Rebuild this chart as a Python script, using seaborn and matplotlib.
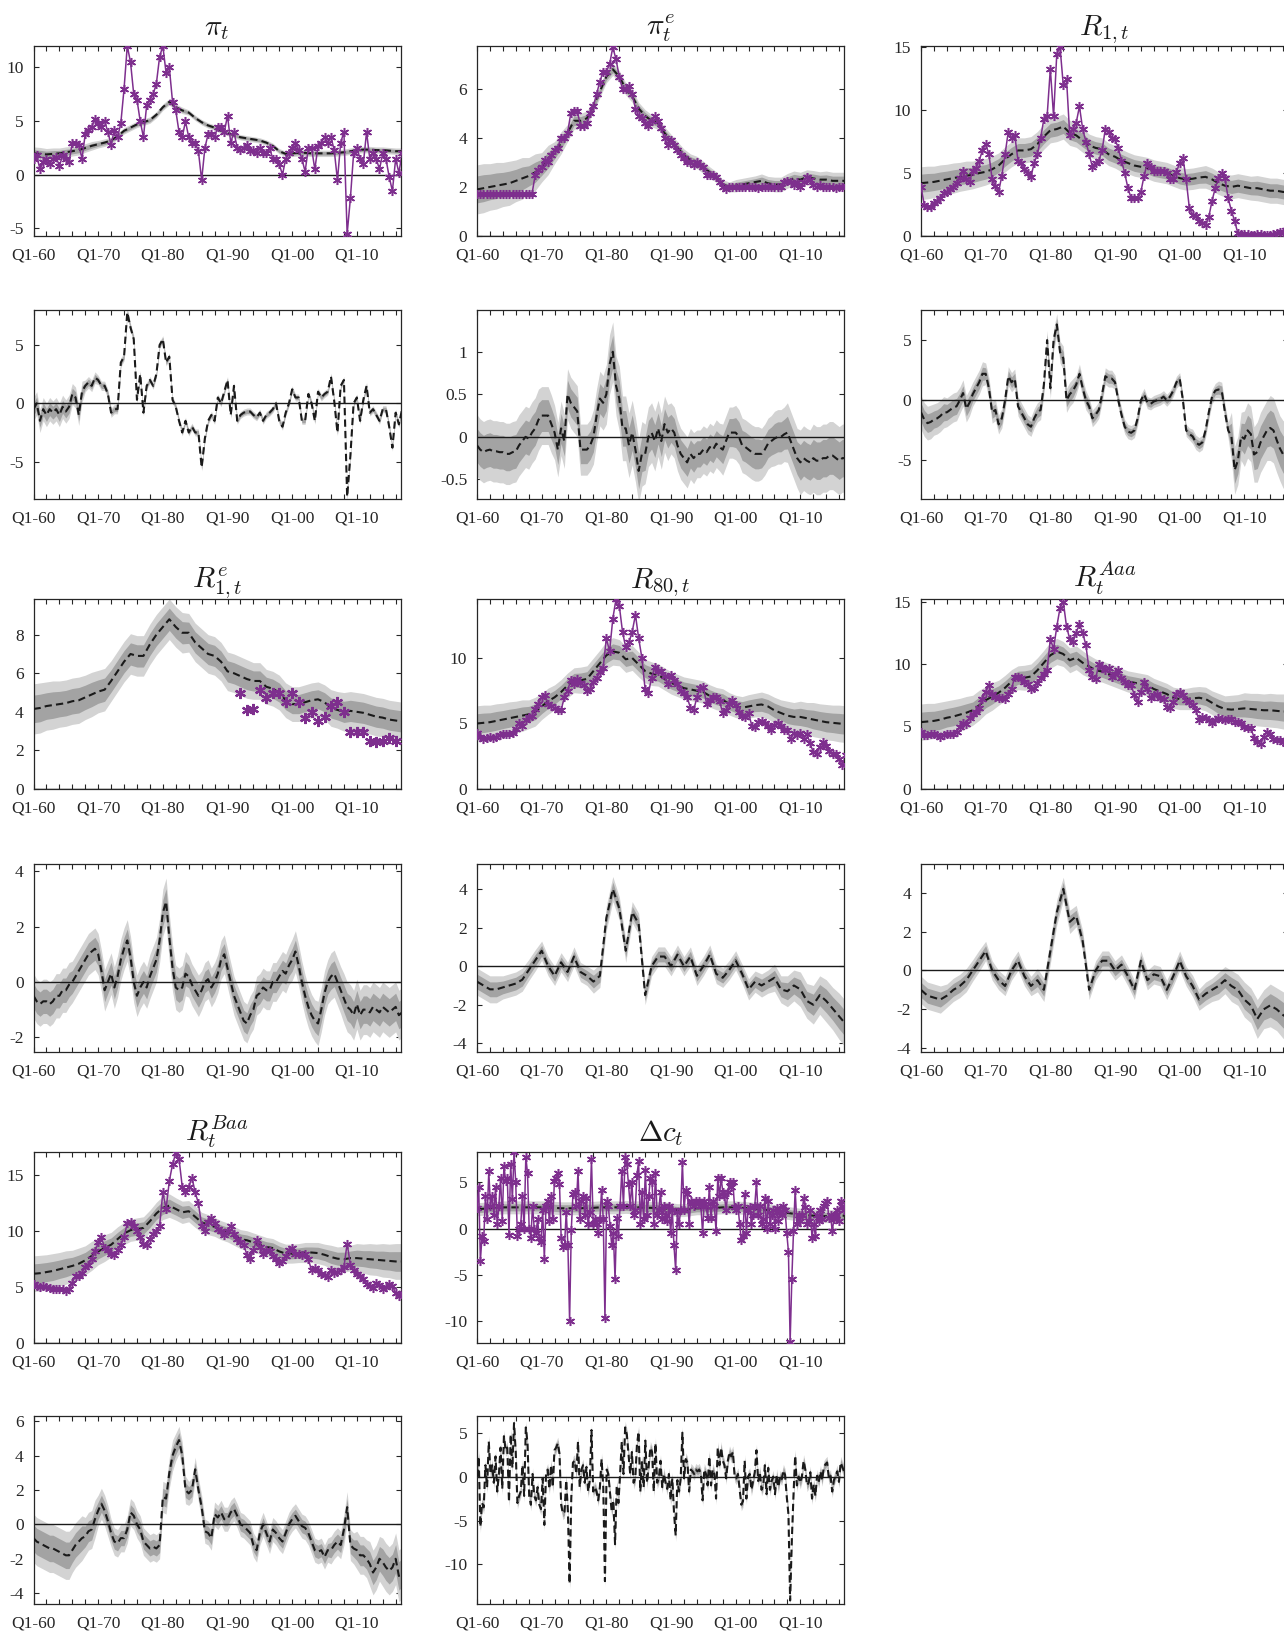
import numpy as np
import matplotlib
matplotlib.use("Agg")
import matplotlib.pyplot as plt
import seaborn as sns

# ---------------- data ----------------
# observed series: half-year steps 1960.0 ... 2017.0 (unless noted)
pi_obs = [1.5, 1.8, 0.5, 1.2, 1.5, 1.0, 1.5, 1.7, 0.8, 1.8, 1.5, 1.2, 3.0, 3.0, 2.8, 1.5,
          3.8, 4.2, 4.5, 5.2, 4.8, 4.5, 5.0, 4.0, 2.8, 4.2, 3.5, 4.8, 8.0, 12.0, 10.5, 7.5,
          7.0, 5.0, 3.5, 6.5, 7.0, 7.5, 8.5, 11.0, 12.0, 9.5, 10.0, 6.8, 6.0, 4.0, 3.5, 5.0,
          3.5, 3.0, 3.0, 2.2, -0.5, 2.5, 3.8, 3.8, 3.5, 4.5, 4.5, 4.0, 5.5, 3.0, 4.0, 2.5,
          2.3, 2.5, 2.8, 2.2, 2.3, 2.0, 2.5, 2.0, 2.0, 2.5, 1.5, 1.5, 1.0, 0.0, 1.5, 2.0,
          2.5, 3.0, 2.3, 1.5, 0.3, 2.5, 2.5, 0.5, 2.7, 3.0, 3.5, 3.0, 3.5, 2.3, -0.5, 3.0,
          4.0, -5.5, -2.2, 2.0, 2.5, 1.5, 1.0, 4.0, 1.5, 2.0, 1.5, 0.5, 2.0, 1.5, -0.2, -1.5,
          1.5, 0.2, 2.0]
pie_obs = [1.7] * 18 + [2.5, 2.7, 2.8, 3.1, 3.0, 3.3, 3.5, 3.6, 4.0, 4.0, 4.2, 5.0, 5.1, 5.1,
          4.5, 4.5, 4.6, 5.0, 5.3, 5.8, 6.3, 6.7, 6.7, 7.0, 7.7, 7.2, 6.5, 6.0, 6.0, 6.1,
          5.8, 5.2, 4.9, 4.8, 4.6, 4.5, 4.7, 4.9, 4.7, 4.4, 4.0, 3.7, 3.9, 3.7, 3.5, 3.3,
          3.2, 3.0, 3.0, 2.9, 3.0, 2.9, 2.8, 2.5, 2.5, 2.5, 2.4, 2.2, 2.0, 1.9, 2.0, 2.0,
          2.0, 2.0, 2.0, 2.0, 2.0, 2.0, 2.0, 1.95, 2.0, 2.0, 2.0, 2.0, 2.0, 2.0, 2.0, 2.2,
          2.25, 2.2, 2.1, 2.2, 2.0, 2.2, 2.4, 2.3, 2.1, 2.0, 2.1, 2.0, 2.0, 2.0, 2.0, 1.95,
          2.0, 2.0, 2.05]
r1_obs = [3.9, 2.5, 2.3, 2.3, 2.6, 2.8, 3.0, 3.4, 3.5, 3.7, 3.9, 4.2, 4.6, 5.2, 4.5, 4.3,
          5.2, 5.4, 6.0, 6.8, 7.3, 6.5, 4.5, 4.0, 3.5, 4.8, 6.5, 8.3, 7.8, 8.0, 6.0, 5.8,
          5.3, 5.0, 4.7, 5.8, 6.5, 7.8, 9.3, 9.5, 13.3, 9.5, 14.5, 15.0, 12.0, 12.5, 8.0, 8.5,
          9.0, 10.3, 8.5, 7.5, 6.5, 5.5, 5.8, 6.0, 6.8, 8.5, 8.3, 7.8, 7.7, 7.0, 6.0, 5.0,
          3.8, 3.0, 3.0, 3.0, 3.5, 4.8, 5.8, 5.5, 5.2, 5.2, 5.2, 5.2, 5.0, 4.5, 4.5, 5.1,
          5.8, 6.2, 4.5, 2.2, 1.7, 1.6, 1.2, 1.0, 0.9, 1.5, 2.8, 3.8, 4.6, 5.0, 4.6, 3.0,
          2.0, 1.2, 0.2, 0.15, 0.15, 0.15, 0.1, 0.1, 0.15, 0.15, 0.1, 0.1, 0.1, 0.15, 0.2, 0.3,
          0.3, 0.5, 0.9]
r80_obs = [4.3, 4.0, 3.8, 3.9, 4.0, 3.9, 4.0, 4.1, 4.2, 4.2, 4.2, 4.3, 4.6, 5.0, 4.8, 5.3,
           5.5, 5.6, 6.1, 6.5, 7.0, 7.2, 6.5, 6.3, 6.2, 6.0, 6.0, 7.0, 7.5, 8.3, 8.0, 8.4,
           8.1, 7.9, 7.5, 7.6, 8.2, 8.5, 8.9, 9.2, 11.5, 10.5, 13.0, 14.5, 14.0, 12.0, 10.8, 11.2,
           12.0, 13.3, 11.5, 10.0, 7.6, 7.3, 8.5, 9.3, 9.0, 9.0, 8.6, 8.0, 8.7, 8.3, 8.0, 7.5,
           7.3, 7.0, 6.2, 6.0, 7.0, 7.7, 7.8, 6.5, 6.8, 7.0, 7.0, 6.7, 5.8, 6.0, 6.5, 6.8,
           6.4, 5.9, 5.6, 5.5, 5.8, 4.8, 4.7, 5.1, 5.2, 5.0, 4.8, 4.5, 4.9, 5.0, 4.8, 4.5,
           4.5, 3.8, 4.3, 4.1, 4.3, 3.8, 4.2, 3.5, 2.8, 2.7, 3.2, 3.6, 3.3, 2.9, 2.7, 2.7,
           2.3, 1.8, 2.6]
aaa_obs = [4.6, 4.3, 4.3, 4.4, 4.4, 4.3, 4.2, 4.3, 4.4, 4.4, 4.4, 4.6, 5.0, 5.3, 5.2, 5.7,
           6.0, 6.2, 6.5, 7.2, 7.8, 8.3, 7.6, 7.4, 7.3, 7.3, 7.2, 7.6, 8.0, 9.0, 9.0, 8.9,
           8.6, 8.4, 8.0, 8.1, 8.5, 8.9, 9.2, 9.5, 12.0, 11.2, 13.0, 14.5, 15.0, 13.0, 12.0, 11.8,
           12.5, 13.2, 12.5, 11.5, 9.5, 9.0, 8.8, 10.0, 9.8, 9.5, 9.7, 9.0, 9.2, 9.5, 8.9, 8.6,
           8.3, 8.3, 7.5, 7.0, 7.8, 8.6, 8.0, 7.3, 7.5, 7.6, 7.3, 7.2, 6.6, 6.5, 7.0, 7.6,
           7.8, 7.5, 7.1, 7.0, 6.7, 6.3, 5.5, 5.8, 5.7, 5.5, 5.3, 5.5, 5.7, 5.6, 5.5, 5.6,
           5.6, 5.4, 5.4, 5.3, 5.0, 4.9, 4.9, 4.1, 3.8, 3.6, 4.2, 4.6, 4.4, 4.0, 3.9, 3.9,
           3.8, 3.7, 4.0]
baa_obs = [5.3, 5.1, 5.0, 5.1, 5.0, 4.9, 4.8, 4.8, 4.8, 4.8, 4.7, 4.8, 5.4, 6.0, 6.0, 6.3,
           6.8, 7.0, 7.5, 8.2, 9.0, 9.5, 8.5, 8.3, 8.0, 7.9, 8.3, 8.8, 9.5, 10.7, 10.8, 10.5,
           10.0, 9.5, 8.9, 8.8, 9.3, 9.8, 10.0, 10.5, 13.5, 12.0, 14.5, 16.0, 17.0, 16.5, 14.0, 13.5,
           14.0, 14.8, 13.5, 12.5, 10.5, 10.0, 10.8, 11.2, 10.7, 10.2, 10.0, 9.7, 10.0, 10.5, 9.8, 9.3,
           9.0, 8.8, 7.9, 7.5, 8.3, 9.2, 8.6, 8.0, 8.3, 8.2, 7.8, 7.5, 7.2, 7.3, 7.8, 8.3,
           8.5, 8.0, 8.0, 7.9, 8.0, 7.5, 6.5, 6.7, 6.5, 6.2, 6.1, 5.9, 6.5, 6.3, 6.4, 6.5,
           6.8, 8.9, 7.0, 6.5, 6.2, 6.0, 5.7, 5.3, 5.1, 4.9, 5.4, 5.2, 4.8, 5.0, 5.3, 5.1,
           4.5, 4.2, 4.5]
# survey points for R^e_1, annual 1992 ... 2016
re1_years = list(range(1992, 2017))
re1_obs = [5.0, 4.1, 4.15, 5.15, 4.7, 5.0, 5.0, 4.5, 5.0, 4.5, 3.7, 4.0, 3.5, 3.75, 4.3,
           4.5, 4.0, 2.95, 2.95, 2.95, 2.5, 2.45, 2.5, 2.65, 2.5]
# consumption growth, quarterly 1960Q1 ... 2016Q4
dc_obs = [2.2, 4.5, -3.5, -0.8, -1.3, 3.5, 1.0, 6.2, 2.5, 3.5,
          1.5, 4.5, 0.5, 2.5, 5.5, 0.8, 6.8, 5.2, 5.5, -0.7,
          7.0, 3.2, 8.3, 5.0, -0.8, 0.0, 0.5, 3.5, 0.0, 7.8,
          6.0, 0.0, -1.0, 2.5, 0.0, -0.5, 1.0, -1.0, -1.5, 2.0,
          -3.3, 2.5, 3.0, 0.8, 3.5, 1.0, 5.2, 5.5, 6.0, 4.8,
          -1.0, -2.0, -1.8, 1.8, -1.8, -10.0, -0.2, 3.8, 4.0, 2.5,
          6.2, 1.0, 3.0, 3.5, 1.5, 3.3, 0.5, 1.8, 7.5, 0.5,
          1.0, 0.5, -0.5, 1.0, 4.2, 1.0, -9.7, 3.0, 2.5, 0.3,
          -1.8, -0.5, -5.5, 1.2, -0.8, 2.5, 6.2, 2.5, 7.8, 7.0,
          4.8, 2.5, 5.0, 1.5, 2.0, 5.8, 7.3, 0.5, 4.0, 1.0,
          6.3, 1.5, 3.5, 5.5, 5.0, 0.5, 6.0, 1.5, 2.0, 4.0,
          1.0, 2.5, 1.5, 0.8, 2.5, -0.5, 2.0, -1.8, -4.5, 1.8,
          0.5, 2.0, 7.2, 2.0, 4.2, 3.8, 0.5, 3.0, 2.8, 2.5,
          3.0, 2.8, 3.0, 2.5, -0.5, 3.0, 2.5, 1.2, 4.5, 1.2,
          3.0, 2.5, -0.3, 5.5, 3.5, 5.5, 4.0, 3.5, 2.0, 4.0,
          5.0, 4.5, 5.0, 2.3, 2.0, 2.5, 0.5, -1.2, -0.8, 3.8,
          -0.5, 2.0, 2.3, 0.5, 1.5, 2.5, 5.0, 1.5, 2.5, 0.5,
          1.0, 3.3, 0.0, 3.0, 0.5, 1.5, 2.0, 0.0, 2.2, 0.8,
          1.8, 1.5, 2.5, 2.0, -0.5, -2.5, -12.3, -5.5, -0.3, 4.2,
          0.5, 1.5, 0.8, 1.5, 3.3, 2.3, 0.5, 0.8, 2.0, -1.0,
          0.5, -0.8, 1.5, 0.8, 2.0, 1.0, 2.5, 2.8, 3.0, 1.2,
          1.5, -0.3, 1.0, 1.5, 2.0, 0.8, 3.0, 2.5, 2.0]

# trend medians, annual 1960 ... 2017
pi_trend = [2.0, 1.95, 1.9, 1.95, 2.0, 2.1, 2.2, 2.3, 2.5, 2.7, 2.85, 3.0, 3.2, 3.6, 4.1, 4.4,
            4.7, 4.9, 5.1, 5.6, 6.3, 6.8, 6.3, 6.0, 5.8, 5.3, 4.9, 4.6, 4.4, 4.1, 3.9, 3.7,
            3.5, 3.4, 3.3, 3.2, 3.0, 2.7, 2.2, 1.95, 2.0, 2.05, 2.05, 2.0, 2.0, 2.0, 2.0, 2.05,
            2.1, 2.2, 2.3, 2.35, 2.35, 2.3, 2.3, 2.25, 2.2, 2.2]
pie_trend = [1.9, 1.95, 2.0, 2.05, 2.1, 2.15, 2.25, 2.35, 2.45, 2.6, 2.8, 3.1, 3.4, 3.8, 4.2, 4.7,
             4.7, 4.8, 5.3, 5.9, 6.5, 6.8, 6.5, 6.0, 5.7, 5.2, 4.9, 4.7, 4.6, 4.2, 3.9, 3.6,
             3.3, 3.1, 3.0, 2.8, 2.6, 2.4, 2.1, 2.0, 2.05, 2.1, 2.15, 2.2, 2.25, 2.15, 2.1, 2.1,
             2.25, 2.35, 2.3, 2.4, 2.35, 2.3, 2.3, 2.25, 2.25, 2.25]
r1_trend = [4.2, 4.25, 4.3, 4.4, 4.5, 4.6, 4.7, 4.8, 4.85, 5.0, 5.1, 5.3, 5.6, 6.1, 6.5, 6.8,
            6.8, 6.9, 7.3, 7.9, 8.4, 8.5, 8.7, 8.2, 8.0, 7.6, 7.2, 7.0, 6.9, 6.5, 6.3, 6.0,
            5.8, 5.6, 5.5, 5.4, 5.2, 5.1, 5.0, 4.8, 4.6, 4.5, 4.55, 4.65, 4.7, 4.5, 4.2, 4.0,
            3.9, 4.0, 3.9, 3.8, 3.8, 3.7, 3.6, 3.6, 3.5, 3.5]
re1_trend = [4.15, 4.2, 4.3, 4.35, 4.4, 4.45, 4.55, 4.6, 4.75, 4.9, 5.05, 5.15, 5.6, 6.1, 6.6, 7.0,
             6.9, 6.9, 7.5, 8.0, 8.4, 8.8, 8.4, 8.1, 8.1, 7.6, 7.3, 7.0, 6.9, 6.6, 6.1, 6.0,
             5.85, 5.7, 5.6, 5.6, 5.3, 5.2, 5.0, 4.6, 4.4, 4.4, 4.5, 4.6, 4.65, 4.5, 4.2, 4.1,
             4.0, 4.05, 4.0, 3.95, 3.85, 3.75, 3.7, 3.6, 3.55, 3.5]
r80_trend = [5.0, 5.05, 5.1, 5.2, 5.3, 5.4, 5.5, 5.6, 5.7, 5.9, 6.3, 6.7, 7.0, 7.4, 7.9, 8.3,
             8.3, 8.4, 9.0, 9.6, 10.2, 10.5, 10.4, 9.9, 10.0, 9.5, 9.0, 8.8, 8.7, 8.4, 8.1, 7.9,
             7.7, 7.6, 7.5, 7.4, 7.1, 6.9, 6.8, 6.5, 6.3, 6.2, 6.3, 6.4, 6.45, 6.3, 6.0, 5.8,
             5.6, 5.5, 5.5, 5.4, 5.3, 5.2, 5.1, 5.05, 5.0, 4.95]
aaa_trend = [5.35, 5.4, 5.45, 5.55, 5.7, 5.8, 5.95, 6.1, 6.3, 6.7, 7.1, 7.4, 7.7, 8.1, 8.6, 8.9,
             8.9, 9.0, 9.5, 10.1, 10.7, 11.0, 10.8, 10.3, 10.5, 10.1, 9.8, 9.5, 9.4, 9.2, 9.0, 8.8,
             8.6, 8.5, 8.4, 8.3, 8.0, 7.8, 7.6, 7.3, 7.2, 7.2, 7.25, 7.3, 7.2, 6.9, 6.6, 6.4,
             6.35, 6.4, 6.45, 6.4, 6.35, 6.3, 6.3, 6.25, 6.2, 6.2]
baa_trend = [6.2, 6.25, 6.35, 6.45, 6.6, 6.75, 6.9, 7.1, 7.4, 7.8, 8.2, 8.5, 8.8, 9.3, 9.8, 10.1,
             10.2, 10.3, 10.9, 11.6, 12.1, 12.3, 12.0, 11.7, 11.8, 11.3, 10.8, 10.6, 10.4, 10.1, 9.9, 9.6,
             9.3, 9.2, 9.0, 8.8, 8.6, 8.5, 8.2, 8.0, 8.0, 8.05, 8.1, 8.1, 8.05, 7.9, 7.7, 7.55,
             7.5, 7.6, 7.6, 7.55, 7.5, 7.45, 7.4, 7.35, 7.3, 7.3]
dc_trend = [2.1, 2.15, 2.2, 2.25, 2.3, 2.3, 2.3, 2.3, 2.3, 2.3, 2.3, 2.3, 2.25, 2.2, 2.2, 2.2,
            2.2, 2.25, 2.25, 2.3, 2.3, 2.3, 2.3, 2.35, 2.3, 2.3, 2.25, 2.25, 2.2, 2.2, 2.1, 2.0,
            2.0, 2.1, 2.2, 2.2, 2.2, 2.25, 2.3, 2.3, 2.3, 2.25, 2.2, 2.15, 2.1, 2.0, 1.9, 1.8,
            1.7, 1.6, 1.5, 1.45, 1.4, 1.35, 1.35, 1.35, 1.4, 1.4]

# gap medians
pi_gap = [-0.5, 0.0, -1.5, -0.5, -1.0, -0.5, -0.8, -0.5, -1.0, -0.3, -0.7, -0.3, 0.8, 0.5, -1.0, 1.0,
          1.5, 1.8, 1.5, 2.2, 2.0, 1.5, 1.5, 0.8, -0.8, -0.5, -0.5, 3.5, 4.0, 7.8, 6.5, 5.5,
          0.3, 2.5, -0.8, 1.5, 2.0, 1.5, 2.5, 5.0, 5.5, 3.5, 4.0, 0.3, -0.3, -1.5, -2.5, -1.5,
          -2.5, -2.0, -2.5, -2.5, -5.5, -3.0, -1.5, -1.0, -1.5, 0.5, 0.0, 1.0, 2.0, -1.0, 1.5, -1.5,
          -1.0, -0.8, -0.7, -0.7, -1.0, -1.2, -0.8, -1.5, -1.0, -0.8, -0.5, 0.0, -1.5, -2.0, -0.8, 0.0,
          1.2, 0.5, 0.5, -1.5, -1.5, 0.8, 0.0, -1.5, 1.0, 0.5, 0.8, 1.0, 2.3, 0.2, -2.5, 1.5,
          2.0, -8.0, -4.5, 0.0, 0.5, -1.5, 0.3, 1.5, -0.8, -0.5, -1.0, -1.5, -0.5, -0.5, -2.0, -3.8,
          -0.8, -1.8, -0.5]
pie_gap = [-0.1, -0.15, -0.18, -0.16, -0.15, -0.17, -0.17, -0.18, -0.18, -0.2, -0.2, -0.18, -0.17, -0.1,
           -0.05, 0.0, -0.02, 0.05, 0.1, 0.2, 0.25, 0.25, 0.25, 0.15, 0.05, -0.15, 0.1, -0.05, 0.5, 0.4,
           0.35, 0.3, -0.15, -0.15, -0.15, -0.1, 0.0, 0.25, 0.45, 0.4, 0.5, 0.85, 1.0, 0.6, 0.45, 0.1,
           0.1, -0.1, 0.05, -0.15, -0.4, -0.2, -0.2, 0.0, 0.05, -0.05, 0.1, -0.05, 0.15, 0.05, 0.1, 0.05,
           -0.1, -0.2, -0.25, -0.3, -0.2, -0.25, -0.2, -0.2, -0.15, -0.18, -0.12, -0.15, -0.08, -0.12,
           -0.15, -0.05, 0.05, 0.05, 0.05, 0.0, -0.1, -0.12, -0.15, -0.18, -0.2, -0.2, -0.2, -0.15,
           -0.08, -0.05, -0.02, 0.0, 0.0, 0.03, 0.05, -0.05, -0.15, -0.25, -0.3, -0.25, -0.28, -0.3,
           -0.25, -0.28, -0.28, -0.25, -0.25, -0.22, -0.22, -0.25, -0.28, -0.25, -0.25]
r1_gap = [-1.0, -1.6, -1.9, -1.8, -1.6, -1.5, -1.3, -1.0, -1.0, -0.8, -0.6, -0.5, 0.0, 0.6, -0.7, -0.2,
          0.5, 1.0, 1.5, 2.2, 2.2, 1.0, -1.0, -0.8, -2.0, -1.5, 0.0, 2.0, 1.5, 1.8, -0.5, -1.0,
          -1.5, -2.0, -2.2, -1.5, -1.0, -0.8, 1.3, 5.0, 1.0, 5.0, 6.3, 4.0, 3.5, 0.0, 0.5, 0.8,
          1.3, 2.2, 1.0, 0.0, -0.5, -1.5, -1.2, -0.8, 0.5, 2.0, 1.8, 1.8, 1.5, 0.0, -1.2, -2.2,
          -2.6, -2.7, -2.5, -1.5, 0.0, 0.5, -0.2, -0.3, -0.1, 0.0, 0.1, 0.3, 0.0, 0.3, 0.8, 1.5,
          1.8, 0.0, -2.5, -2.8, -3.0, -3.5, -3.7, -3.5, -2.5, -1.0, 0.3, 0.8, 0.9, 0.8, -1.0, -2.5,
          -3.0, -5.8, -5.0, -3.0, -3.2, -2.5, -2.8, -4.5, -4.3, -3.5, -3.0, -2.5, -2.3, -2.5, -3.3, -4.0,
          -4.5, -4.5, -4.5]
re1_gap = [-0.5, -0.7, -0.8, -0.7, -0.7, -0.8, -0.7, -0.5, -0.5, -0.3, -0.3, -0.1, 0.0, 0.2, 0.4, 0.6,
           0.8, 1.0, 1.1, 1.2, 1.0, 0.4, -0.3, 0.0, 0.3, -0.2, 0.2, 0.8, 1.2, 1.5, 0.9, 0.0,
           -0.5, -0.2, 0.0, -0.2, 0.2, 0.5, 0.8, 1.5, 2.5, 2.9, 1.6, 0.5, -0.2, -0.3, -0.2, 0.3,
           0.2, -0.1, -0.3, -0.5, -0.3, 0.0, 0.1, -0.2, 0.0, 0.3, 0.8, 1.0, 0.5, 0.0, -0.5, -0.8,
           -1.1, -1.4, -1.5, -1.2, -1.0, -0.5, -0.4, -0.2, -0.3, -0.3, 0.0, 0.0, 0.2, 0.4, 0.3, 0.6,
           0.8, 1.1, 0.6, 0.0, -0.5, -0.9, -1.2, -1.4, -1.5, -1.0, -0.4, 0.0, 0.2, 0.3, 0.0, -0.3,
           -0.6, -0.9, -1.0, -1.2, -0.8, -1.2, -1.0, -1.0, -1.1, -0.9, -1.0, -1.1, -0.9, -1.0, -1.1, -1.0,
           -0.9, -1.2, -1.1]
r80_gap = [-0.8, -1.0, -1.2, -1.2, -1.1, -1.0, -0.9, -0.7, -0.2, 0.3, 0.8, 0.0, -0.5, 0.2, -0.3, 0.5,
           -0.3, -0.5, -0.8, -0.5, 2.5, 4.0, 3.0, 0.8, 2.8, 2.2, -1.5, 0.0, 0.5, 0.5, 0.0, 0.6,
           0.0, 0.5, -0.5, 0.0, 0.6, -0.4, -0.6, -0.2, 0.3, -0.4, -1.2, -0.8, -1.0, -0.8, -0.6, -1.2,
           -1.3, -1.0, -1.2, -1.8, -2.0, -1.5, -1.8, -2.2, -2.6, -3.0]
aaa_gap = [-1.0, -1.3, -1.4, -1.5, -1.3, -1.0, -0.8, -0.5, 0.0, 0.5, 1.0, 0.0, -0.5, -0.8, 0.0, 0.5,
           -0.3, -0.8, -0.5, -1.0, 1.0, 3.0, 4.2, 2.5, 2.8, 1.5, -1.0, 0.0, 0.5, 0.5, 0.0, 0.3,
           -0.3, -1.0, 0.5, -0.5, -0.2, -0.3, -1.0, -0.3, 0.5, -0.3, -0.8, -1.5, -1.2, -1.0, -0.8, -0.5,
           -0.8, -1.0, -1.5, -1.8, -2.5, -2.0, -1.8, -2.0, -2.3, -2.5]
baa_gap = [-0.8, -1.0, -1.1, -1.2, -1.3, -1.4, -1.4, -1.5, -1.6, -1.7, -1.8, -1.8, -1.5, -1.2, -1.0, -0.8,
           -0.7, -0.4, -0.3, 0.3, 0.8, 1.2, 0.8, 0.2, -0.5, -1.0, -1.1, -0.8, -0.8, -0.3, 0.7, 0.5,
           0.0, -0.3, -1.0, -1.2, -1.4, -1.3, -1.4, -1.2, 1.6, 1.5, 3.0, 4.0, 4.5, 4.9, 4.0, 2.0,
           1.8, 2.0, 3.2, 2.0, 1.0, -0.4, -0.5, -0.8, 0.6, 0.4, 0.7, 0.3, 0.3, 0.7, 0.9, 0.5,
           0.0, -0.1, -0.3, -0.5, -1.2, -1.5, -0.5, 0.0, -0.5, -1.0, -0.3, -0.5, -0.8, -1.0, -0.5, 0.0,
           0.3, 0.5, 0.2, -0.1, -0.2, -0.5, -1.0, -1.5, -1.6, -1.5, -1.9, -1.5, -1.5, -1.2, -1.0, -1.2,
           -0.3, 1.0, -1.2, -1.4, -1.5, -1.8, -1.8, -2.0, -2.3, -2.8, -2.5, -2.0, -2.2, -2.5, -2.7, -2.5,
           -2.0, -3.0, -2.8]
dc_gap = [0.0, 2.3, -5.7, -3.0, -3.5, 1.3, -1.2, 4.0, 0.3, 1.3,
          -0.7, 2.3, -1.7, 0.3, 3.3, -1.4, 4.6, 3.0, 3.3, -2.9,
          4.8, 1.0, 6.1, 2.8, -3.0, -2.2, -1.7, 1.3, -2.2, 5.6,
          3.8, -2.2, -3.2, 0.3, -2.2, -2.7, -1.2, -3.2, -3.7, -0.2,
          -5.5, 0.3, 0.8, -1.4, 1.3, -1.2, 3.0, 3.3, 3.8, 2.6,
          -3.2, -4.2, -4.0, -0.4, -4.0, -12.2, -2.4, 1.6, 1.8, 0.3,
          4.0, -1.2, 0.8, 1.3, -0.7, 1.1, -1.7, -0.4, 5.3, -1.7,
          -1.2, -1.7, -2.7, -1.2, 2.0, -1.2, -11.9, 0.8, 0.3, -1.9,
          -4.0, -2.7, -7.7, -1.0, -3.0, 0.3, 4.0, 0.3, 5.6, 4.8,
          2.6, 0.3, 2.8, -0.7, -0.2, 3.6, 5.1, -1.7, 1.8, -1.2,
          4.1, -0.7, 1.3, 3.3, 2.8, -1.7, 3.8, -0.7, -0.2, 1.8,
          -1.2, 0.3, -0.7, -1.4, 0.3, -2.7, -0.2, -4.0, -6.7, -0.4,
          -1.7, -0.2, 5.0, -0.2, 2.0, 1.6, -1.7, 0.8, 0.6, 0.3,
          0.8, 0.6, 0.8, 0.3, -2.7, 0.8, 0.3, -1.0, 2.3, -1.0,
          0.8, 0.3, -2.5, 3.3, 1.3, 3.3, 1.8, 1.3, -0.2, 1.8,
          2.8, 2.3, 2.8, 0.1, -0.2, 0.3, -1.5, -3.2, -2.8, 1.8,
          -2.5, 0.0, 0.3, -1.5, -0.5, 0.5, 3.0, -0.5, 0.5, -1.5,
          -1.0, 1.3, -2.0, 1.0, -1.5, -0.5, 0.0, -2.0, 0.2, -1.2,
          0.0, -0.3, 0.7, 0.2, -2.3, -4.3, -14.1, -7.3, -2.1, 2.4,
          -1.0, 0.0, -0.7, 0.0, 1.8, 0.8, -1.0, -0.7, 0.5, -2.5,
          -0.9, -2.2, 0.1, -0.6, 0.6, -0.4, 1.1, 1.4, 1.6, -0.2,
          0.1, -1.7, -0.4, 0.1, 0.6, -0.6, 1.6, 1.1, 0.6]

# outer band half-widths, one value per two years (1960, 1962, ..., 2016)
pi_trend_w = [0.6, 0.55, 0.5, 0.45, 0.4, 0.35, 0.3, 0.3, 0.3, 0.3, 0.3, 0.3, 0.25, 0.25, 0.25,
              0.25, 0.25, 0.25, 0.25, 0.25, 0.3, 0.3, 0.3, 0.3, 0.3, 0.3, 0.3, 0.3, 0.3]
pie_trend_w = [1.0, 0.95, 0.9, 0.85, 0.75, 0.6, 0.45, 0.35, 0.3, 0.25, 0.25, 0.25, 0.25, 0.25, 0.25,
               0.25, 0.25, 0.25, 0.22, 0.2, 0.25, 0.25, 0.28, 0.3, 0.3, 0.3, 0.32, 0.35, 0.35]
r1_trend_w = [1.3, 1.25, 1.2, 1.15, 1.1, 1.05, 1.0, 1.0, 1.0, 1.0, 1.0, 1.0, 0.95, 0.9, 0.9,
              0.9, 0.85, 0.85, 0.85, 0.85, 0.85, 0.85, 0.9, 0.9, 0.95, 0.95, 1.0, 1.0, 1.0]
re1_trend_w = [1.3, 1.25, 1.2, 1.2, 1.15, 1.1, 1.05, 1.05, 1.05, 1.05, 1.05, 1.05, 1.0, 1.0, 1.0,
               1.0, 1.0, 0.95, 0.9, 0.9, 0.9, 0.9, 0.9, 0.95, 1.0, 1.0, 1.0, 1.0, 1.0]
r80_trend_w = [1.35, 1.3, 1.25, 1.2, 1.1, 1.0, 0.95, 0.95, 1.0, 1.0, 1.05, 1.0, 0.95, 0.9, 0.85,
               0.85, 0.85, 0.85, 0.85, 0.85, 0.85, 0.9, 0.95, 1.0, 1.1, 1.2, 1.3, 1.35, 1.4]
aaa_trend_w = [1.45, 1.4, 1.35, 1.3, 1.2, 1.1, 1.0, 0.95, 1.0, 1.0, 1.05, 1.0, 0.95, 0.9, 0.85,
               0.85, 0.85, 0.85, 0.85, 0.85, 0.85, 0.9, 0.95, 1.05, 1.15, 1.25, 1.3, 1.35, 1.4]
baa_trend_w = [1.6, 1.55, 1.5, 1.4, 1.3, 1.2, 1.1, 1.0, 1.0, 1.0, 1.05, 1.0, 0.95, 0.9, 0.85,
               0.85, 0.85, 0.85, 0.85, 0.85, 0.85, 0.9, 0.95, 1.05, 1.15, 1.3, 1.4, 1.5, 1.6]
dc_trend_w = [0.7] * 29
pi_gap_w = [1.0, 1.0, 1.0, 0.9, 0.5, 0.4, 0.4, 0.35, 0.3, 0.3, 0.3, 0.3, 0.3, 0.3, 0.3,
            0.3, 0.3, 0.3, 0.3, 0.3, 0.3, 0.3, 0.3, 0.3, 0.3, 0.3, 0.3, 0.3, 0.3]
pie_gap_w = [0.36, 0.36, 0.36, 0.36, 0.36, 0.34, 0.32, 0.3, 0.3, 0.32, 0.35, 0.38, 0.38, 0.35, 0.33,
             0.3, 0.3, 0.28, 0.28, 0.3, 0.32, 0.32, 0.3, 0.32, 0.35, 0.38, 0.4, 0.4, 0.4]
r1_gap_w = [1.4, 1.3, 1.2, 1.1, 1.0, 0.9, 0.8, 0.8, 0.8, 0.8, 0.9, 1.0, 0.8, 0.7, 0.7,
            0.6, 0.6, 0.5, 0.5, 0.5, 0.5, 0.6, 0.6, 0.7, 2.0, 2.3, 2.5, 2.7, 2.8]
re1_gap_w = [0.8, 0.8, 0.8, 0.75, 0.75, 0.75, 0.75, 0.75, 0.75, 0.8, 0.85, 0.8, 0.75, 0.7, 0.7,
             0.7, 0.7, 0.7, 0.7, 0.7, 0.75, 0.75, 0.8, 0.85, 0.9, 0.9, 0.9, 0.9, 0.9]
r80_gap_w = [0.7, 0.7, 0.6, 0.6, 0.55, 0.5, 0.5, 0.5, 0.5, 0.6, 0.65, 0.6, 0.55, 0.5, 0.5,
             0.5, 0.5, 0.5, 0.5, 0.5, 0.5, 0.55, 0.6, 0.7, 0.8, 0.9, 1.0, 1.1, 1.2]
aaa_gap_w = r80_gap_w
baa_gap_w = [1.4, 1.4, 1.4, 1.3, 1.1, 0.9, 0.8, 0.8, 0.8, 0.8, 0.9, 0.8, 0.7, 0.7, 0.7,
             0.7, 0.7, 0.7, 0.7, 0.7, 0.7, 0.7, 0.7, 0.8, 0.9, 1.1, 1.3, 1.4, 1.5]
dc_gap_w = [0.7] * 29

xtick_years = list(range(1960, 2017, 2))
xtick_text = {1960: "Q1-60", 1970: "Q1-70", 1980: "Q1-80", 1990: "Q1-90", 2000: "Q1-00", 2010: "Q1-10"}

# ---------------- style ----------------
sns.set_theme(style="ticks")
plt.rcParams["font.family"] = ["Liberation Serif", "DejaVu Serif"]
plt.rcParams["mathtext.fontset"] = "cm"
plt.rcParams["axes.unicode_minus"] = False

PURPLE = "#7E2F8E"
LIGHT = "#d3d3d3"
DARK = "#a3a3a3"
INNER = 0.55
INK = "#262626"

W, H = 1284, 1639
fig = plt.figure(figsize=(W / 100, H / 100), dpi=100)
col_left = [33.5, 477, 921]
ax_w = 367
rows = [(46, 236), (310, 499), (599, 789), (864, 1052), (1152, 1343), (1416, 1604)]


def make_ax(r, c):
    top, bot = rows[r]
    return fig.add_axes([col_left[c] / W, 1 - bot / H, ax_w / W, (bot - top) / H])


def band(w, x):
    idx = np.clip(((x - 1960) // 2).astype(int), 0, len(w) - 1)
    return np.asarray(w)[idx]


def panel(r, c, med, w, ylim, yticks, obs=None, title=None, end=2017.0, obs_end=2017.0,
          pts=None):
    ax = make_ax(r, c)
    m = np.asarray(med, dtype=float)
    x = np.linspace(1960, end, len(m))
    hw = band(w, x)
    ax.fill_between(x, m - hw, m + hw, color=LIGHT, lw=0)
    ax.fill_between(x, m - INNER * hw, m + INNER * hw, color=DARK, lw=0)
    ax.axhline(0, color="k", lw=1.0, zorder=2)
    sns.lineplot(x=x, y=m, ax=ax, color="k", lw=1.5, linestyle=(0, (3.5, 2.0)),
                 estimator=None, errorbar=None, zorder=3)
    if obs is not None:
        xo = np.linspace(1960, obs_end, len(obs))
        sns.lineplot(x=xo, y=obs, ax=ax, color=PURPLE, lw=1.1, marker=(6, 2, 0),
                     markersize=6.5, markeredgecolor=PURPLE, markeredgewidth=1.1,
                     estimator=None, errorbar=None, zorder=4)
    if pts is not None:
        sns.lineplot(x=pts[0], y=pts[1], ax=ax, color=PURPLE, linestyle="none",
                     marker=(6, 2, 0), markersize=8, markeredgecolor=PURPLE,
                     markeredgewidth=1.6, estimator=None, errorbar=None, zorder=4)
    ax.set_xlim(1960, 2016.75)
    ax.set_ylim(*ylim)
    ax.set_xticks(xtick_years)
    ax.set_xticklabels([xtick_text.get(y, "") for y in xtick_years])
    ax.set_yticks(yticks)
    ax.set_yticklabels([f"{v:g}" for v in yticks])
    ax.tick_params(axis="both", direction="in", top=True, right=True, length=3.5,
                   width=0.8, colors=INK, labelsize=12.5)
    ax.tick_params(axis="x", pad=8)
    ax.tick_params(axis="y", pad=7)
    for s in ax.spines.values():
        s.set_color(INK)
        s.set_linewidth(0.9)
    ax.set_xlabel("")
    ax.set_ylabel("")
    if title:
        ax.set_title(title, fontsize=21, pad=8, color="k")
    return ax


panel(0, 0, pi_trend, pi_trend_w, (-5.7, 12), [-5, 0, 5, 10], obs=pi_obs, title=r"$\pi_t$")
panel(0, 1, pie_trend, pie_trend_w, (0, 7.75), [0, 2, 4, 6], obs=pie_obs, title=r"$\pi^e_t$")
panel(0, 2, r1_trend, r1_trend_w, (0, 15.1), [0, 5, 10, 15], obs=r1_obs, title=r"$R_{1,t}$")
panel(1, 0, pi_gap, pi_gap_w, (-8.2, 8), [-5, 0, 5])
panel(1, 1, pie_gap, pie_gap_w, (-0.73, 1.49), [-0.5, 0, 0.5, 1])
panel(1, 2, r1_gap, r1_gap_w, (-8.2, 7.5), [-5, 0, 5])
panel(2, 0, re1_trend, re1_trend_w, (0, 9.85), [0, 2, 4, 6, 8], title=r"$R^e_{1,t}$",
      pts=(re1_years, re1_obs))
panel(2, 1, r80_trend, r80_trend_w, (0, 14.5), [0, 5, 10], obs=r80_obs, title=r"$R_{80,t}$")
panel(2, 2, aaa_trend, aaa_trend_w, (0, 15.2), [0, 5, 10, 15], obs=aaa_obs, title=r"$R^{Aaa}_t$")
panel(3, 0, re1_gap, re1_gap_w, (-2.53, 4.26), [-2, 0, 2, 4])
panel(3, 1, r80_gap, r80_gap_w, (-4.45, 5.3), [-4, -2, 0, 2, 4])
panel(3, 2, aaa_gap, aaa_gap_w, (-4.2, 5.48), [-4, -2, 0, 2, 4])
panel(4, 0, baa_trend, baa_trend_w, (0, 17.1), [0, 5, 10, 15], obs=baa_obs, title=r"$R^{Baa}_t$")
panel(4, 1, dc_trend, dc_trend_w, (-12.4, 8.3), [-10, -5, 0, 5], obs=dc_obs, obs_end=2016.75,
      title=r"$\Delta c_t$")
panel(5, 0, baa_gap, baa_gap_w, (-4.63, 6.3), [-4, -2, 0, 2, 4, 6])
panel(5, 1, dc_gap, dc_gap_w, (-14.5, 6.9), [-10, -5, 0, 5], end=2016.75)

fig.savefig("out.png", dpi=100)
